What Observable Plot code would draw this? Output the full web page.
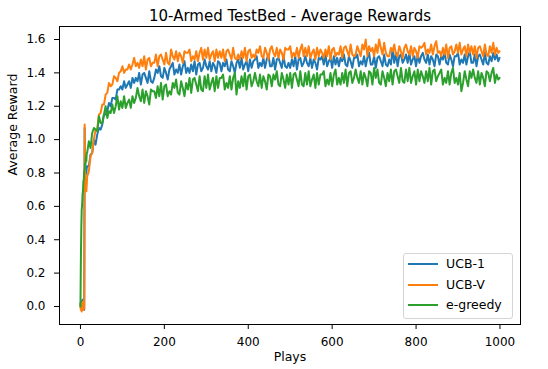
<!DOCTYPE html>
<html>
<head>
<meta charset="utf-8">
<script src="https://cdn.jsdelivr.net/npm/d3@7"></script>
<script src="https://cdn.jsdelivr.net/npm/@observablehq/plot@0.6"></script>
<style>
  html, body { margin: 0; padding: 0; background: #fff; }
  #wrap { position: relative; width: 548px; height: 369px; font-family: "DejaVu Sans", sans-serif; }
  #legend { position: absolute; left: 403px; top: 253px; width: 108px; height: 64px;
    border: 1px solid #d4d4d4; border-radius: 3px; background: rgba(255,255,255,0.8); }
  .row { position: absolute; left: 0; height: 20px; width: 100%; }
  .swatch { position: absolute; left: 4px; top: 9px; width: 30px; height: 2px; }
  .lab { position: absolute; left: 42px; top: 1px; font-size: 12.5px; line-height: 18px; color: #000; white-space: nowrap; }
</style>
</head>
<body>
<div id="wrap"></div>
<script>
const title = "10-Armed TestBed - Average Rewards";
const xLabel = "Plays";
const yLabel = "Average Reward";
const seriesNames = ["UCB-1", "UCB-V", "e-greedy"];
const seriesColors = ["#1f77b4", "#ff7f0e", "#2ca02c"];
const xTicks = [0, 200, 400, 600, 800, 1000];
const yTicks = [0, 0.2, 0.4, 0.6, 0.8, 1.0, 1.2, 1.4, 1.6];

// play index of each sample: every play up to 15, then every 4th play, then the last
const plays = [0,1,2,3,4,5,6,7,8,9,10,11,12,13,14,15].concat(d3.range(16, 1000, 4), [999]);

const ucb1 = [
0.02,-0.01,0.03,-0.02,0.01,0.04,-0.01,0.02,0.00,-0.02,1.07,0.80,0.78,0.84,0.80,0.83,
0.84,0.84,0.91,0.92,1.00,0.97,1.03,1.07,1.06,1.09,
1.15,1.15,1.17,1.22,1.20,1.25,1.25,1.24,1.30,1.30,
1.32,1.30,1.35,1.31,1.33,1.35,1.31,1.37,1.34,1.37,
1.35,1.40,1.33,1.39,1.40,1.37,1.34,1.41,1.35,1.34,
1.37,1.42,1.40,1.44,1.38,1.37,1.43,1.40,1.36,1.42,
1.44,1.46,1.39,1.42,1.40,1.45,1.39,1.44,1.47,1.40,
1.43,1.40,1.45,1.41,1.47,1.39,1.45,1.46,1.41,1.43,
1.48,1.44,1.42,1.47,1.41,1.46,1.44,1.40,1.47,1.46,
1.41,1.46,1.44,1.48,1.42,1.41,1.47,1.44,1.40,1.46,
1.48,1.43,1.49,1.42,1.45,1.47,1.41,1.48,1.43,1.47,
1.48,1.50,1.43,1.46,1.44,1.49,1.43,1.48,1.51,1.44,
1.44,1.49,1.42,1.48,1.49,1.46,1.43,1.50,1.44,1.43,
1.46,1.43,1.48,1.44,1.50,1.42,1.48,1.49,1.44,1.46,
1.50,1.46,1.44,1.49,1.43,1.48,1.46,1.42,1.49,1.48,
1.50,1.45,1.51,1.44,1.47,1.49,1.43,1.50,1.45,1.49,
1.44,1.49,1.47,1.51,1.45,1.44,1.50,1.47,1.43,1.49,
1.49,1.51,1.44,1.47,1.45,1.50,1.44,1.49,1.52,1.45,
1.45,1.50,1.43,1.49,1.50,1.47,1.44,1.51,1.45,1.44,
1.48,1.45,1.54,1.46,1.52,1.44,1.50,1.51,1.46,1.48,
1.51,1.46,1.52,1.45,1.48,1.50,1.44,1.51,1.46,1.50,
1.52,1.48,1.46,1.51,1.45,1.50,1.48,1.44,1.51,1.50,
1.45,1.50,1.48,1.52,1.46,1.45,1.51,1.48,1.44,1.50,
1.50,1.52,1.45,1.48,1.46,1.51,1.45,1.50,1.53,1.46,
1.46,1.51,1.44,1.50,1.51,1.48,1.45,1.52,1.46,1.45,
1.50,1.47,1.52,1.48,1.51,1.47,
1.49];

const ucbV = [
0.01,-0.02,0.02,-0.03,0.00,-0.01,0.03,-0.02,0.01,-0.01,1.09,0.74,0.70,0.76,0.69,0.73,
0.78,0.81,0.90,0.92,1.00,1.06,1.06,1.15,1.16,1.21,
1.21,1.27,1.28,1.34,1.32,1.33,1.38,1.37,1.35,1.40,
1.41,1.44,1.40,1.42,1.42,1.45,1.42,1.45,1.49,1.44,
1.46,1.43,1.48,1.44,1.50,1.42,1.48,1.49,1.44,1.46,
1.46,1.51,1.44,1.50,1.51,1.48,1.45,1.52,1.46,1.45,
1.54,1.50,1.48,1.53,1.47,1.52,1.50,1.46,1.53,1.52,
1.52,1.54,1.47,1.50,1.48,1.53,1.47,1.52,1.55,1.48,
1.54,1.49,1.55,1.48,1.51,1.53,1.47,1.54,1.49,1.53,
1.49,1.54,1.47,1.53,1.54,1.51,1.48,1.55,1.49,1.48,
1.51,1.48,1.53,1.49,1.55,1.47,1.53,1.54,1.49,1.51,
1.49,1.54,1.52,1.56,1.50,1.49,1.55,1.52,1.48,1.54,
1.56,1.52,1.50,1.55,1.49,1.54,1.52,1.48,1.55,1.54,
1.54,1.56,1.49,1.52,1.50,1.55,1.49,1.54,1.57,1.50,
1.55,1.50,1.56,1.49,1.52,1.54,1.48,1.55,1.50,1.54,
1.52,1.49,1.54,1.50,1.56,1.48,1.54,1.55,1.50,1.52,
1.51,1.56,1.49,1.55,1.56,1.53,1.50,1.57,1.51,1.50,
1.51,1.56,1.53,1.50,1.57,1.54,1.60,1.50,1.56,1.53,
1.55,1.50,1.57,1.52,1.60,1.55,1.51,1.58,1.52,1.50,
1.50,1.55,1.53,1.57,1.51,1.50,1.56,1.53,1.49,1.55,
1.57,1.53,1.51,1.56,1.50,1.55,1.53,1.49,1.56,1.55,
1.56,1.58,1.51,1.54,1.52,1.57,1.51,1.56,1.59,1.52,
1.53,1.50,1.55,1.51,1.57,1.49,1.55,1.56,1.51,1.53,
1.57,1.52,1.58,1.51,1.54,1.56,1.50,1.57,1.52,1.56,
1.51,1.56,1.49,1.55,1.56,1.53,1.50,1.57,1.51,1.50,
1.56,1.52,1.58,1.51,1.55,1.52,
1.53];

const eGreedy = [
0.00,0.28,0.47,0.58,0.61,0.67,0.69,0.75,0.76,0.81,0.82,0.86,0.85,0.90,0.87,0.92,
0.92,0.99,0.95,1.04,1.07,1.06,1.05,1.14,1.10,1.10,
1.15,1.20,1.13,1.17,1.16,1.21,1.16,1.20,1.26,1.18,
1.23,1.19,1.26,1.19,1.22,1.24,1.19,1.26,1.22,1.25,
1.31,1.26,1.23,1.30,1.22,1.29,1.26,1.21,1.30,1.29,
1.29,1.25,1.32,1.26,1.34,1.24,1.32,1.33,1.26,1.29,
1.27,1.34,1.31,1.36,1.28,1.27,1.35,1.31,1.26,1.34,
1.30,1.37,1.28,1.36,1.37,1.33,1.29,1.38,1.30,1.29,
1.38,1.31,1.39,1.30,1.34,1.37,1.29,1.38,1.31,1.37,
1.37,1.39,1.30,1.34,1.31,1.38,1.30,1.37,1.40,1.27,
1.35,1.31,1.38,1.32,1.40,1.30,1.38,1.39,1.32,1.35,
1.40,1.35,1.32,1.39,1.31,1.38,1.35,1.30,1.39,1.38,
1.32,1.39,1.36,1.41,1.33,1.32,1.40,1.36,1.31,1.39,
1.33,1.40,1.31,1.39,1.40,1.36,1.32,1.41,1.33,1.32,
1.40,1.33,1.41,1.32,1.36,1.39,1.31,1.40,1.33,1.39,
1.39,1.41,1.32,1.36,1.33,1.40,1.32,1.39,1.42,1.33,
1.37,1.33,1.40,1.34,1.42,1.32,1.40,1.41,1.34,1.37,
1.42,1.37,1.34,1.41,1.33,1.40,1.37,1.32,1.41,1.40,
1.33,1.43,1.37,1.42,1.34,1.33,1.41,1.37,1.32,1.40,
1.35,1.42,1.33,1.41,1.42,1.38,1.34,1.43,1.35,1.34,
1.42,1.35,1.43,1.34,1.38,1.41,1.33,1.42,1.35,1.41,
1.38,1.34,1.41,1.35,1.43,1.33,1.41,1.42,1.35,1.38,
1.40,1.42,1.33,1.37,1.34,1.41,1.33,1.40,1.43,1.34,
1.37,1.33,1.40,1.29,1.34,1.41,1.36,1.32,1.41,1.37,
1.42,1.37,1.34,1.41,1.33,1.40,1.37,1.32,1.41,1.40,
1.35,1.40,1.43,1.34,1.39,1.36,
1.37];

const seriesValues = [ucb1, ucbV, eGreedy];
const series = seriesNames.map((name, k) =>
  plays.map((p, i) => ({play: p, value: seriesValues[k][i], name})));

const chart = Plot.plot({
  width: 548,
  height: 369,
  marginLeft: 59,
  marginRight: 28,
  marginTop: 26,
  marginBottom: 45,
  style: {fontFamily: "DejaVu Sans, sans-serif", fontSize: "12px", background: "#fff", color: "#000"},
  x: {domain: [-49.95, 1048.95], ticks: xTicks, tickFormat: d3.format("d"), tickSize: 5, tickPadding: 8, label: null},
  y: {domain: [-0.108, 1.678], ticks: yTicks, tickFormat: d3.format(".1f"), tickSize: 5, tickPadding: 9, label: null},
  marks: [
    ...series.map((s, k) => Plot.line(s, {x: "play", y: "value", stroke: seriesColors[k], strokeWidth: 2, strokeLinejoin: "round"})),
    Plot.frame({stroke: "#000", strokeWidth: 1}),
    Plot.text([title], {text: d => d, frameAnchor: "top", dy: -16, fontSize: 15, fill: "#000"}),
    Plot.text([xLabel], {text: d => d, frameAnchor: "bottom", dy: 36, fontSize: 12.5, fill: "#000"}),
    Plot.text([yLabel], {text: d => d, frameAnchor: "left", dx: -46.5, rotate: -90, fontSize: 12.5, fill: "#000"})
  ]
});

const wrap = document.getElementById("wrap");
wrap.appendChild(chart);

const legend = document.createElement("div");
legend.id = "legend";
seriesNames.forEach((name, k) => {
  const row = document.createElement("div");
  row.className = "row";
  row.style.top = (20.5 * k) + "px";
  const sw = document.createElement("span");
  sw.className = "swatch";
  sw.style.background = seriesColors[k];
  const lab = document.createElement("span");
  lab.className = "lab";
  lab.textContent = name;
  row.appendChild(sw);
  row.appendChild(lab);
  legend.appendChild(row);
});
wrap.appendChild(legend);
</script>
</body>
</html>
